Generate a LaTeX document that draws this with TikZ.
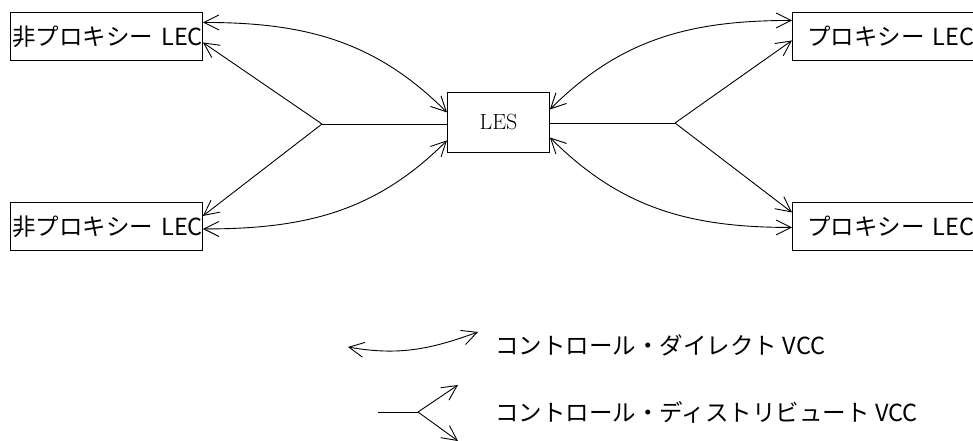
\documentclass[tikz,border=0pt]{standalone}
\usepackage{fontspec}
\newfontfamily\jp{Noto Sans CJK JP}
\usetikzlibrary{arrows.meta}
\begin{document}
\begin{tikzpicture}[x=1pt,y=1pt,line width=0.9pt,
  tip/.style={-{Straight Barb[length=15pt,width=15pt]}},
  both/.style={{Straight Barb[length=15pt,width=15pt]}-{Straight Barb[length=15pt,width=15pt]}},
  lec/.style={draw, anchor=north west, minimum height=48pt, text width=188pt,
    inner xsep=2pt, inner ysep=0pt, align=left, font=\jp\fontsize{23.5}{28}\selectfont},
  plec/.style={lec, text width=160pt, inner xsep=15pt},
  lesbox/.style={draw, anchor=north west, minimum width=102pt, minimum height=60pt,
    font=\fontsize{22}{26}\selectfont},
  legend/.style={anchor=west, inner sep=0pt, font=\jp\fontsize{23.5}{28}\selectfont}]
\useasboundingbox (0,0) rectangle (973,440);
\node[lec] (tl) at (10,428) {\mbox{非プロキシー LEC}};
\node[lec] (bl) at (10,238) {\mbox{非プロキシー LEC}};
\node[plec] (tr) at (792,428) {\mbox{プロキシー LEC}};
\node[plec] (br) at (792,238) {\mbox{プロキシー LEC}};
\node[lesbox] (les) at (447,348) {LES};
\coordinate (jl) at (322,316);
\coordinate (jr) at (675,317);
\draw (jl) -- (jl -| les.west);
\draw[tip] (jl) -- ([yshift=-6pt]tl.east);
\draw[tip] (jl) -- ([yshift=10.5pt]bl.east);
\draw (jr) -- (jr -| les.east);
\draw[tip] (jr) -- ([yshift=-4pt]tr.west);
\draw[tip] (jr) -- ([yshift=14pt]br.west);
\draw[both] ([yshift=14pt]tl.east) to[out=0,in=135] ([yshift=10pt]les.west);
\draw[both] ([yshift=-2.5pt]bl.east) to[out=0,in=-135] ([yshift=-18pt]les.west);
\draw[both] ([yshift=13pt]les.east) to[out=45,in=180] ([yshift=16pt]tr.west);
\draw[both] ([yshift=-15pt]les.east) to[out=-45,in=180] ([yshift=-1pt]br.west);
\coordinate (la) at (348,93);
\coordinate (lb) at (478,108);
\draw[both] (la) to[out=-10,in=200] (lb);
\node[legend] (t1) at (495,95) {コントロール・ダイレクト VCC};
\coordinate (da) at (378,28);
\coordinate (dj) at (418,28);
\coordinate (du) at (458,55);
\coordinate (dd) at (458,-1);
\draw (da) -- (dj);
\draw[tip] (dj) -- (du);
\draw[tip] (dj) -- (dd);
\node[legend] (t2) at (495,28) {コントロール・ディストリビュート VCC};
\end{tikzpicture}
\end{document}
